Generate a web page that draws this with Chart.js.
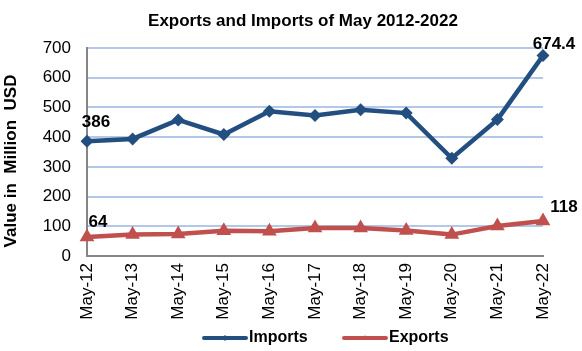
<!DOCTYPE html>
<html>
<head>
<meta charset="utf-8">
<script src="https://cdn.jsdelivr.net/npm/chart.js@4/dist/chart.umd.min.js"></script>
<style>
html,body{margin:0;padding:0;background:#fff;}
canvas{display:block;}
</style>
</head>
<body>
<canvas id="c" width="582" height="351"></canvas>
<script>
const categories = ['May-12','May-13','May-14','May-15','May-16','May-17','May-18','May-19','May-20','May-21','May-22'];
const importsValues = [386, 394, 458, 409, 487, 473, 492, 481, 329, 459, 674.4];
const exportsValues = [64, 72, 74, 85, 83, 94, 94, 86, 72, 101, 118];
const seriesNames = ['Imports', 'Exports'];
const chartTitle = 'Exports and Imports of May 2012-2022';
const yAxisTitle = 'Value in  Million  USD';
const yMin = 0, yMax = 700, yStep = 100;

const FONT = '"Liberation Sans", Arial, sans-serif';
const IMP_COLOR = '#234e80';
const EXP_COLOR = '#c0504d';

// which points carry a value label, and where the label sits relative to the point
const valueLabels = [
  {ds: 0, i: 0, dx: 9, dy: -19},
  {ds: 0, i: 10, dx: 11, dy: -11},
  {ds: 1, i: 0, dx: 11, dy: -15},
  {ds: 1, i: 10, dx: 21, dy: -14}
];

const extrasPlugin = {
  id: 'extras',
  afterDatasetsDraw(chart) {
    const ctx = chart.ctx;
    ctx.save();
    ctx.fillStyle = '#000';
    ctx.font = 'bold 17px ' + FONT;
    ctx.textAlign = 'center';
    ctx.textBaseline = 'middle';
    valueLabels.forEach(l => {
      const el = chart.getDatasetMeta(l.ds).data[l.i];
      const v = chart.data.datasets[l.ds].data[l.i];
      ctx.fillText(String(v), el.x + l.dx, el.y + l.dy);
    });
    ctx.restore();
  },
  afterDraw(chart) {
    const ctx = chart.ctx;
    ctx.save();
    ctx.fillStyle = '#000';
    // title
    ctx.font = 'bold 17px ' + FONT;
    ctx.textAlign = 'center';
    ctx.textBaseline = 'middle';
    ctx.fillText(chartTitle, 303, 21);
    // y axis title
    ctx.save();
    ctx.translate(11, 161);
    ctx.rotate(-Math.PI / 2);
    ctx.font = 'bold 17px ' + FONT;
    ctx.fillText(yAxisTitle, 0, 0);
    ctx.restore();
    // legend
    const items = [
      {x: 202, color: IMP_COLOR, name: chart.data.datasets[0].label, style: 'rectRot'},
      {x: 342, color: EXP_COLOR, name: chart.data.datasets[1].label, style: 'triangle'}
    ];
    const ly = 338;
    items.forEach(it => {
      ctx.strokeStyle = it.color;
      ctx.lineWidth = 4;
      ctx.lineCap = 'round';
      ctx.beginPath();
      ctx.moveTo(it.x + 2, ly);
      ctx.lineTo(it.x + 44, ly);
      ctx.stroke();
      ctx.fillStyle = it.color;
      Chart.helpers.drawPoint(ctx, {pointStyle: it.style, radius: 3, borderWidth: 0}, it.x + 23, ly);
      ctx.fillStyle = '#000';
      ctx.font = 'bold 16px ' + FONT;
      ctx.textAlign = 'left';
      ctx.textBaseline = 'middle';
      ctx.fillText(it.name, it.x + 47, ly);
    });
    ctx.restore();
  }
};

new Chart(document.getElementById('c'), {
  type: 'line',
  data: {
    labels: categories,
    datasets: [
      {
        label: seriesNames[0],
        data: importsValues,
        borderColor: IMP_COLOR,
        backgroundColor: IMP_COLOR,
        borderWidth: 4.5,
        pointStyle: 'rectRot',
        pointRadius: 6.5,
        pointBorderWidth: 0,
        tension: 0
      },
      {
        label: seriesNames[1],
        data: exportsValues,
        borderColor: EXP_COLOR,
        backgroundColor: EXP_COLOR,
        borderWidth: 4.5,
        pointStyle: 'triangle',
        pointRadius: 8.5,
        pointBorderWidth: 0,
        tension: 0
      }
    ]
  },
  options: {
    responsive: false,
    animation: false,
    devicePixelRatio: 1,
    layout: {padding: {left: 0, right: 39, top: 48, bottom: 0}},
    plugins: {
      legend: {display: false},
      title: {display: false},
      tooltip: {enabled: false}
    },
    scales: {
      x: {
        offset: false,
        grid: {display: false, drawTicks: false},
        border: {display: true, color: '#868686', width: 2},
        ticks: {
          autoSkip: false,
          maxRotation: 90,
          minRotation: 90,
          padding: 7,
          color: '#000',
          font: {family: FONT, size: 17}
        },
        afterFit(scale) { scale.height = 95; }
      },
      y: {
        min: yMin,
        max: yMax,
        grid: {
          color: ctx => ctx.tick && ctx.tick.value === 0 ? 'rgba(0,0,0,0)' : '#b3c7e8',
          lineWidth: 2,
          drawTicks: false
        },
        border: {display: true, color: '#868686', width: 2},
        ticks: {
          stepSize: yStep,
          padding: 16,
          color: '#000',
          font: {family: FONT, size: 17}
        },
        afterFit(scale) { scale.width = 87; }
      }
    }
  },
  plugins: [extrasPlugin]
});
</script>
</body>
</html>
